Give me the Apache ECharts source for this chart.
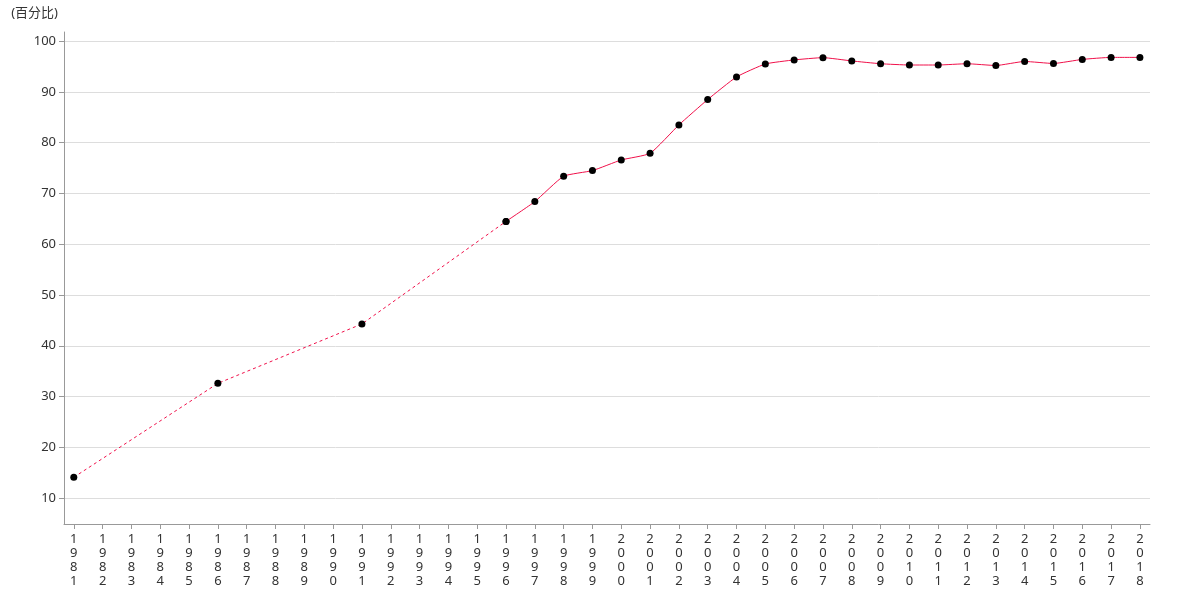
<!DOCTYPE html>
<html><head><meta charset="utf-8">
<script src="https://cdn.jsdelivr.net/npm/echarts@6/dist/echarts.min.js"></script>
<style>html,body{margin:0;padding:0;background:#fff}#c{width:1180px;height:600px}</style>
</head><body><div id="c"></div>
<script>
var years = [];
for (var y = 1981; y <= 2018; y++) years.push(y);
// survey years with values (sparse early, annual later)
var sparseYears = [1981, 1986, 1991, 1996];
var sparseValues = [14.1, 32.6, 44.3, 64.5];
var annualYears = [1996,1997,1998,1999,2000,2001,2002,2003,2004,2005,2006,2007,2008,2009,2010,2011,2012,2013,2014,2015,2016,2017,2018];
var annualValues = [64.5,68.4,73.4,74.5,76.6,77.9,83.5,88.5,92.95,95.5,96.3,96.75,96.1,95.55,95.3,95.3,95.55,95.2,96.0,95.6,96.4,96.8,96.8];
var yTicks = [10,20,30,40,50,60,70,80,90,100];
var yName = '(百分比)';

function pairs(xs, vs){ return xs.map(function(x,i){ return [x, vs[i]]; }); }
var font = '"Noto Sans", "Noto Sans CJK SC", sans-serif';
var chart = echarts.init(document.getElementById('c'), null, {renderer:'canvas'});
chart.setOption({
  animation: false,
  textStyle: {fontFamily: font},
  grid: {left: 64, right: 30, top: 32, bottom: 76, containLabel: false},
  xAxis: {
    type: 'value', min: 1980.66, max: 2018.35,
    axisLine: {lineStyle: {color: '#999'}},
    axisTick: {show: true, length: 5, customValues: years, lineStyle: {color: '#999'}},
    axisLabel: {customValues: years, color: '#333', fontSize: 13, lineHeight: 14, margin: 8, fontFamily: font,
      formatter: function(v){ return String(v).split('').join('\n'); }},
    splitLine: {show: false}
  },
  yAxis: {
    type: 'value', min: 4.9, max: 101.8,
    name: yName, nameLocation: 'end', nameGap: 12,
    nameTextStyle: {color: '#333', fontSize: 13, align: 'right', padding: [0, 6, 0, 0], fontFamily: font},
    axisLine: {show: true, lineStyle: {color: '#999'}},
    axisTick: {show: true, length: 5, customValues: yTicks, lineStyle: {color: '#999'}},
    axisLabel: {customValues: yTicks, color: '#333', fontSize: 13, margin: 8, fontFamily: font},
    splitLine: {show: true, lineStyle: {color: '#ddd'}}
  },
  series: [
    {
      type: 'line', data: pairs(sparseYears, sparseValues),
      lineStyle: {color: '#f0104a', width: 1, type: [3, 3]},
      symbol: 'circle', symbolSize: 7, itemStyle: {color: '#000'}, z: 2
    },
    {
      type: 'line', data: pairs(annualYears, annualValues), smooth: 0.15,
      lineStyle: {color: '#f0104a', width: 1},
      symbol: 'circle', symbolSize: 7, itemStyle: {color: '#000'}, z: 3
    }
  ]
});
</script></body></html>
